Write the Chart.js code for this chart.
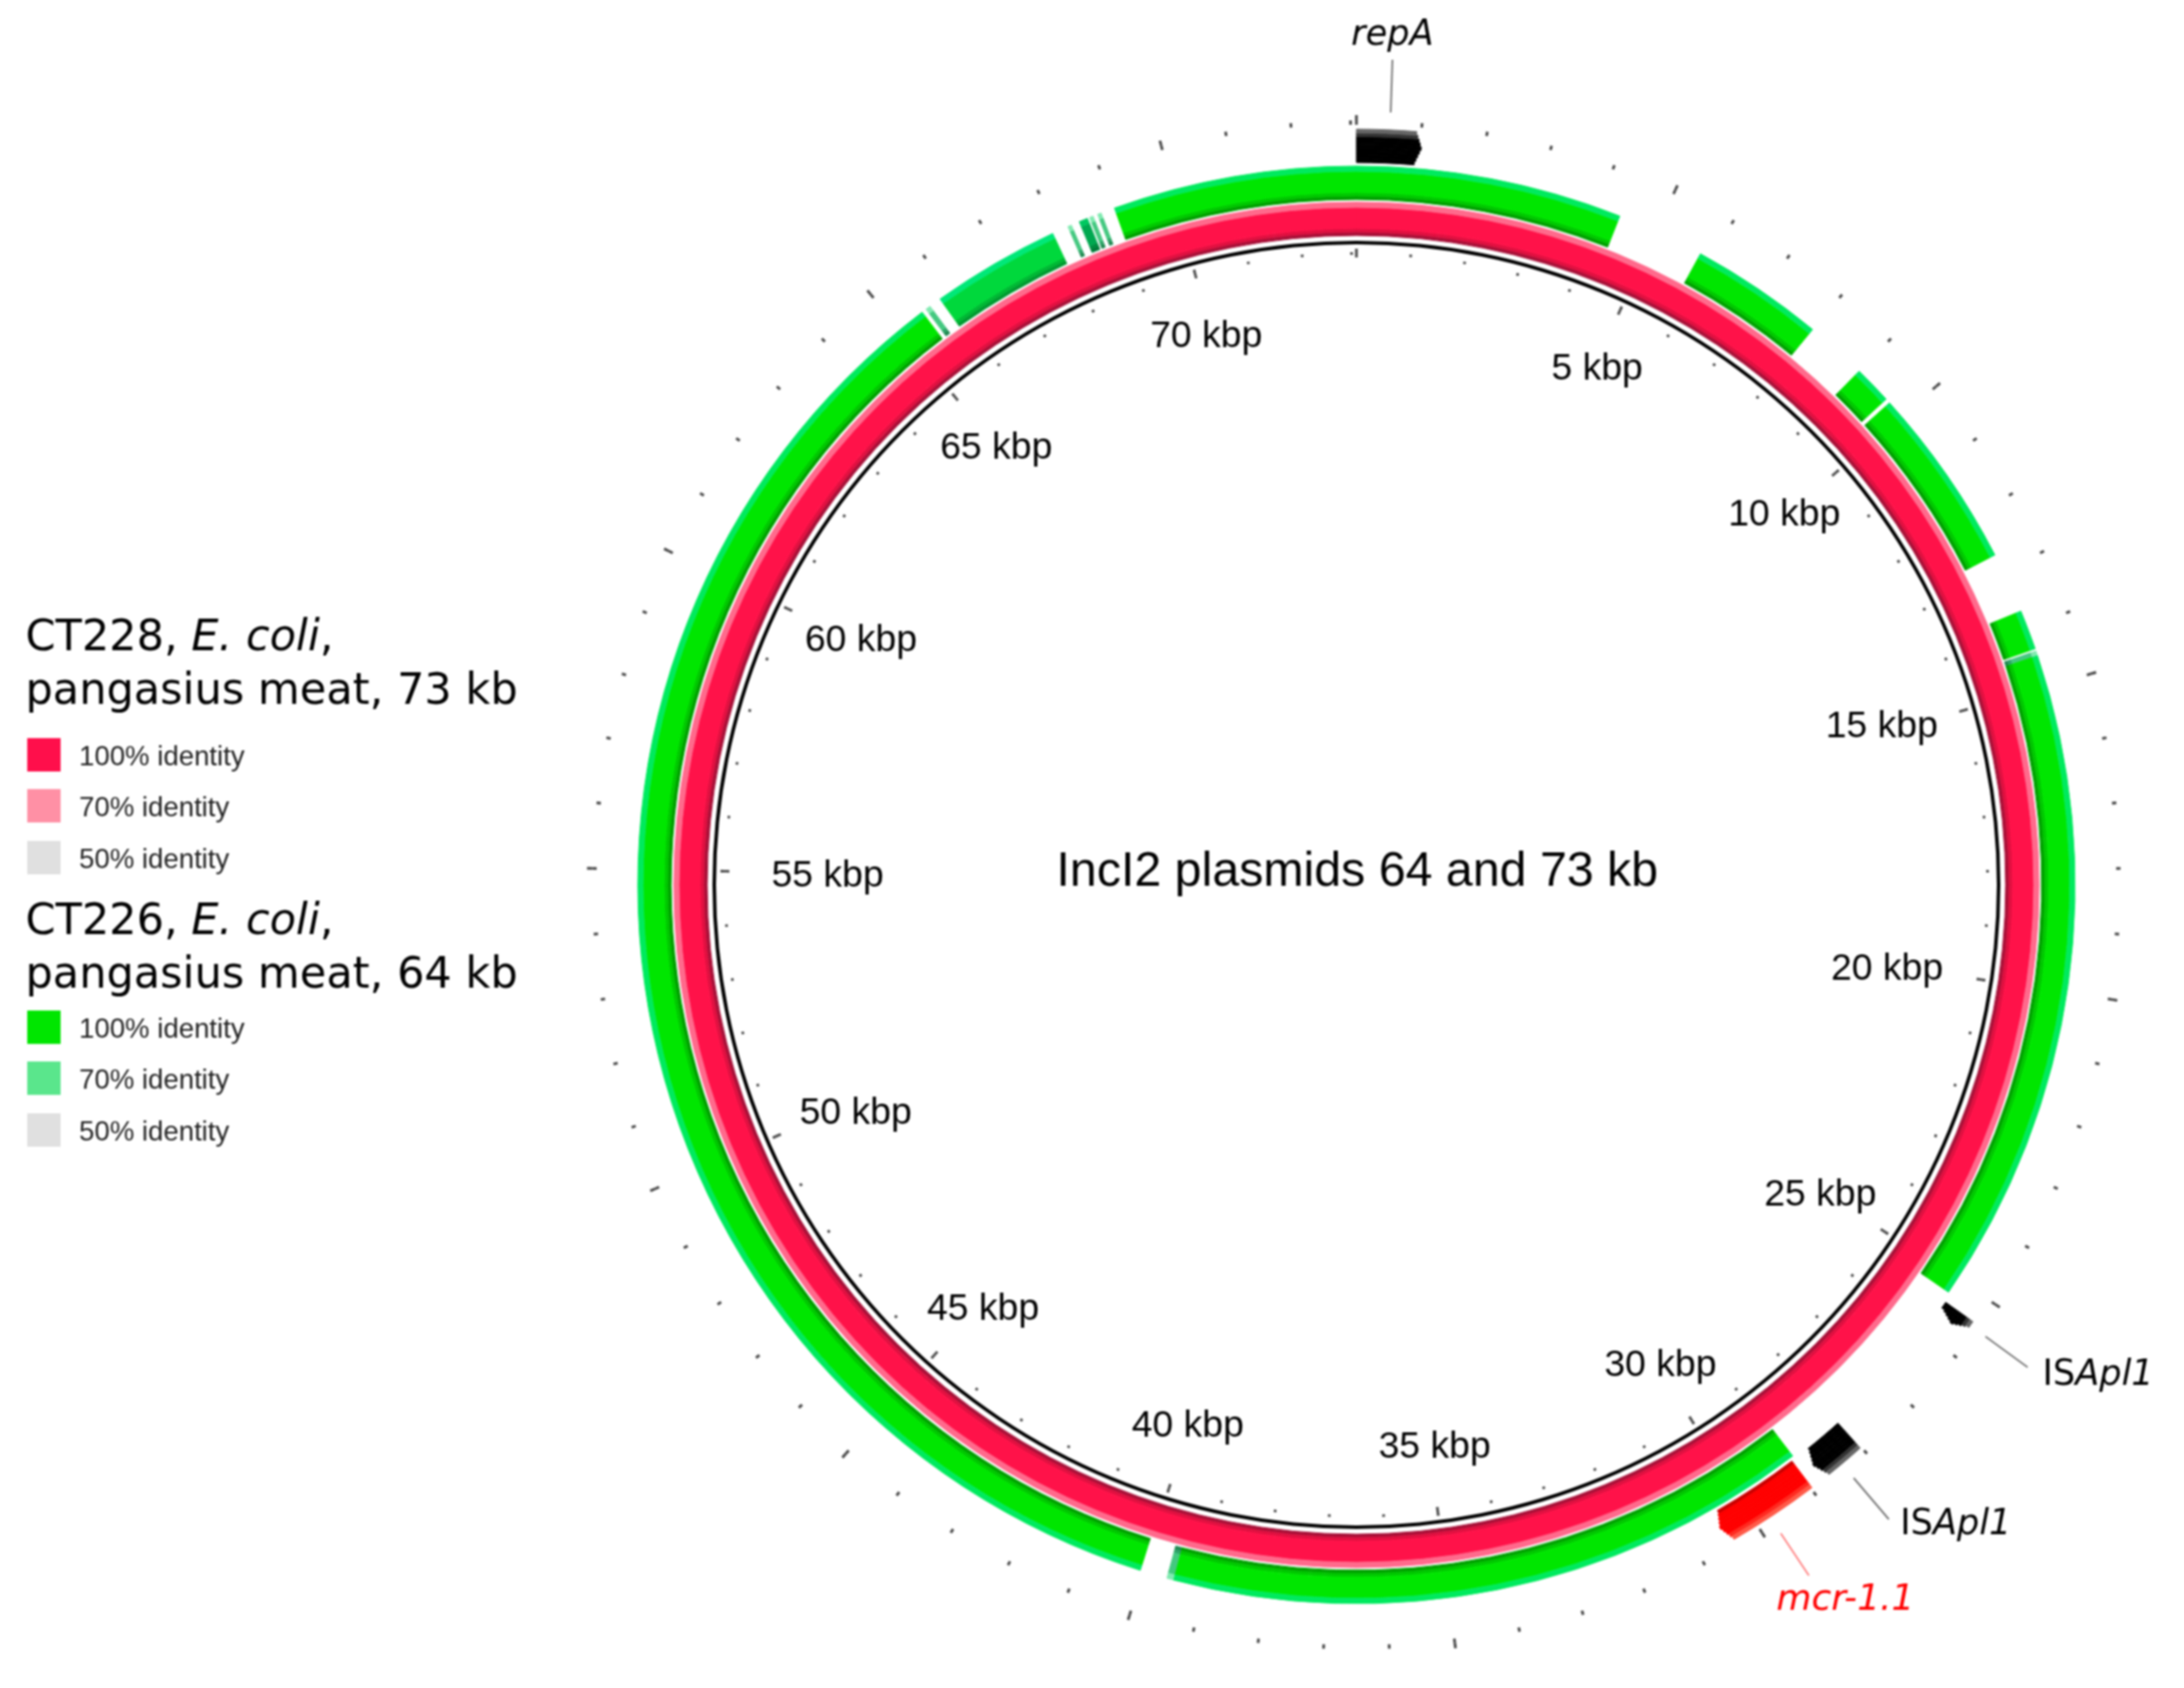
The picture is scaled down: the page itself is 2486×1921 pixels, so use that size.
<!DOCTYPE html>
<html>
<head>
<meta charset="utf-8">
<title>IncI2 plasmids</title>
<script src="https://cdn.jsdelivr.net/npm/chart.js@4"></script>
<style>
    html, body { margin: 0; background: #fff; }
    #page { position: relative; width: 2486px; height: 1921px; overflow: hidden; filter: blur(0.9px); }
    #plasmid { position: absolute; left: 0; top: 0; }
    .txt { position: absolute; white-space: nowrap; line-height: 1; }
    .kbp { font: 42.5px "Liberation Sans"; color: #000; transform: translate(-50%, -50%); }
    .center { font: 55px "Liberation Sans"; color: #000; left: 1545px; top: 989px; transform: translate(-50%, -50%); }
    .gene { font: 40px "DejaVu Sans"; color: #000; line-height: 1; }
    .head { position: absolute; left: 29px; font: 49px/61px "DejaVu Sans"; color: #000; white-space: nowrap; }
    .swatch { position: absolute; left: 31px; width: 38px; height: 38px; }
    .key { position: absolute; left: 90px; font: 31.4px/38px "Liberation Sans"; color: #222; white-space: nowrap; }
</style>
</head>
<body>
<div id="page">
    <canvas id="plasmid" width="2486" height="1921"></canvas>

    <div class="head" style="top:693px">CT228, <i>E. coli</i>,<br>pangasius meat, 73 kb</div>
    <div class="swatch" style="top:840px;background:#ff0f4b"></div><div class="key" style="top:842px">100% identity</div>
    <div class="swatch" style="top:898px;background:#ff90a5"></div><div class="key" style="top:900px">70% identity</div>
    <div class="swatch" style="top:957px;background:#e0e0e0"></div><div class="key" style="top:959px">50% identity</div>

    <div class="head" style="top:1016px">CT226, <i>E. coli</i>,<br>pangasius meat, 64 kb</div>
    <div class="swatch" style="top:1150px;background:#00e600"></div><div class="key" style="top:1152px">100% identity</div>
    <div class="swatch" style="top:1208px;background:#5ae68c"></div><div class="key" style="top:1210px">70% identity</div>
    <div class="swatch" style="top:1267px;background:#e0e0e0"></div><div class="key" style="top:1269px">50% identity</div>

    <div class="txt center">IncI2 plasmids 64 and 73 kb</div>
    <div class="txt gene" style="left:1538px;top:17px"><i>repA</i></div>
    <div class="txt gene" style="left:2325px;top:1542px">IS<i>Apl1</i></div>
    <div class="txt gene" style="left:2163px;top:1712px">IS<i>Apl1</i></div>
    <div class="txt gene" style="left:2022px;top:1798px;color:#f00;font-size:41px"><i>mcr-1.1</i></div>
</div>

<script>
// Plasmid length and scale ticks, kbp
const plasmidKb = 73;
const minorTicks = [0, 1, 2, 3, 4, 5, 6, 7, 8, 9, 10, 11, 12, 13, 14, 15, 16, 17, 18, 19, 20, 21, 22, 23, 24,
    25, 26, 27, 28, 29, 30, 31, 32, 33, 34, 35, 36, 37, 38, 39, 40, 41, 42, 43, 44, 45, 46, 47, 48,
    49, 50, 51, 52, 53, 54, 55, 56, 57, 58, 59, 60, 61, 62, 63, 64, 65, 66, 67, 68, 69, 70, 71, 72, 72.91];
const majorTicks = [0, 5, 10, 15, 20, 25, 30, 35, 40, 45, 50, 55, 60, 65, 70];
const tickLabels = ['5 kbp', '10 kbp', '15 kbp', '20 kbp', '25 kbp', '30 kbp', '35 kbp',
    '40 kbp', '45 kbp', '50 kbp', '55 kbp', '60 kbp', '65 kbp', '70 kbp'];

// CT228 covers the whole reference
const ct228Start = [0];
const ct228End = [73];

// CT226 BLAST hits against it, kbp and identity level
const ct226Start = [0, 5.80, 9.00, 9.71, 13.71, 14.40, 14.48, 28.92, 39.50, 40.05, 65.54, 65.82, 68.20, 68.40, 68.58, 68.72, 69.01];
const ct226End = [4.36, 7.99, 9.63, 12.71, 14.36, 14.48, 25.25, 39.50, 39.60, 65.46, 65.62, 67.93, 68.26, 68.54, 68.64, 68.78, 73];
const ct226Level = [100, 100, 100, 100, 100, 70, 100, 100, 70, 100, 70, 90, 70, 80, 70, 70, 100];

// Annotated genes: body start, body end and arrow tip, kbp
const geneStart = [0, 25.41, 28.02, 28.98];
const geneEnd = [0.93, 25.52, 28.65, 30.42];
const geneTip = [1.02, 25.63, 28.75, 30.52];
const geneKind = ['mobile', 'mobile', 'mobile', 'resistance'];

// Colours, outermost band first
const greenBands = {
    100: ['#00ea5e', '#00e600', '#00c800', '#00a000'],
    90: ['#00e878', '#00d83c', '#00b834', '#009a30'],
    80: ['#00c860', '#00a850', '#008c40', '#007a38'],
    70: ['#80eab0', '#44c880', '#2fa468', '#208850']
};
const redBands = ['#ff6a8c', '#ff1249', '#e01040', '#a81038'];
const geneBands = {
    mobile: { outer: '#666666', edge: '#333333', main: '#000000', inner: '#000000' },
    resistance: { outer: '#ff5a48', edge: '#ff2a20', main: '#ff0000', inner: '#c80000' }
};

// Ring thicknesses in px, drawn as doughnut weights
const outerRadius = 876;
const innerRadius = 714;
const greenWeights = [6, 24, 4, 4];
const redWeights = [6, 24, 4, 4];
const geneRows = 9;
const geneWeight = 38 / geneRows;

// Turn sorted spans into a doughnut dataset, filling the gaps with nothing
function ring(starts, ends, colors, weight, border) {
    const data = [];
    const backgroundColor = [];
    let pos = 0;
    starts.forEach((start, i) => {
        if (start > pos) {
            data.push(start - pos);
            backgroundColor.push('rgba(0,0,0,0)');
        }
        data.push(ends[i] - start);
        backgroundColor.push(colors[i]);
        pos = ends[i];
    });
    if (pos < plasmidKb) {
        data.push(plasmidKb - pos);
        backgroundColor.push('rgba(0,0,0,0)');
    }
    return { data, backgroundColor, borderColor: backgroundColor, borderWidth: border ? 1 : 0, weight };
}

function spacer(weight) {
    return ring([], [], [], weight, false);
}

function tickRing(ticks, widthKb, weight) {
    const starts = [];
    const ends = [];
    ticks.forEach(kb => {
        starts.push(kb === 0 ? 0 : kb - widthKb / 2);
        ends.push(kb + widthKb / 2);
    });
    starts.push(plasmidKb - widthKb / 2);
    ends.push(plasmidKb);
    return ring(starts, ends, starts.map(() => '#4a4a4a'), weight, false);
}

function geneRing(row) {
    // rows nearer the middle of the band reach further along the arrow tip
    const mid = (geneRows - 1) / 2;
    const reach = 1 - Math.abs(row - mid) / mid;
    const ends = geneEnd.map((end, i) => end + (geneTip[i] - end) * reach);
    const part = row === 0 ? 'outer' : row === 1 ? 'edge' : row === geneRows - 1 ? 'inner' : 'main';
    const colors = geneKind.map(kind => geneBands[kind][part]);
    return ring(geneStart, ends, colors, geneWeight, true);
}

const geneRings = [];
for (let row = 0; row < geneRows; row++) {
    geneRings.push(geneRing(row));
}

const datasets = [
    tickRing(majorTicks, 0.042, 6),
    tickRing(minorTicks, 0.042, 5),
    spacer(5),
    ...geneRings,
    spacer(4),
    ...greenWeights.map((w, band) => ring(ct226Start, ct226End, ct226Level.map(l => greenBands[l][band]), w, true)),
    spacer(3),
    ...redWeights.map((w, band) => ring(ct228Start, ct228End, [redBands[band]], w, true)),
    spacer(6),
    ring([0], [plasmidKb], ['#000000'], 4, false),
    spacer(5),
    tickRing(majorTicks, 0.05, 4),
    tickRing(minorTicks, 0.05, 3),
    tickRing(majorTicks, 0.05, 3)
];

// Leader lines from the gene names down to their arrows
const leaderLines = {
    id: 'leaderLines',
    afterDraw(chart) {
        const ctx = chart.ctx;
        const lines = [
            [1585, 68, 1583, 128, '#777'],
            [2260, 1521, 2308, 1556, '#777'],
            [2110, 1682, 2150, 1729, '#777'],
            [2027, 1745, 2059, 1793, '#ff8080']
        ];
        ctx.save();
        ctx.lineWidth = 2;
        lines.forEach(([x1, y1, x2, y2, color]) => {
            ctx.strokeStyle = color;
            ctx.beginPath();
            ctx.moveTo(x1, y1);
            ctx.lineTo(x2, y2);
            ctx.stroke();
        });
        ctx.restore();
    }
};

new Chart(document.getElementById('plasmid'), {
    type: 'doughnut',
    data: { datasets },
    plugins: [leaderLines],
    options: {
        responsive: false,
        animation: false,
        devicePixelRatio: 1,
        events: [],
        radius: outerRadius,
        cutout: (innerRadius / outerRadius * 100) + '%',
        layout: { padding: { left: 664, top: 127, right: 62, bottom: 34 } },
        plugins: { legend: { display: false }, tooltip: { enabled: false } }
    }
});

// Scale labels sit inside the backbone ring
const labelX = [1818, 2031, 2142, 2148, 2072, 1890, 1633, 1352, 1119, 974, 942, 980, 1134, 1373];
const labelY = [418, 584, 825, 1101, 1358, 1552, 1645, 1621, 1488, 1265, 995, 727, 508, 381];
tickLabels.forEach((text, i) => {
    const el = document.createElement('div');
    el.className = 'txt kbp';
    el.textContent = text;
    el.style.left = labelX[i] + 'px';
    el.style.top = labelY[i] + 'px';
    document.getElementById('page').appendChild(el);
});
</script>
</body>
</html>
